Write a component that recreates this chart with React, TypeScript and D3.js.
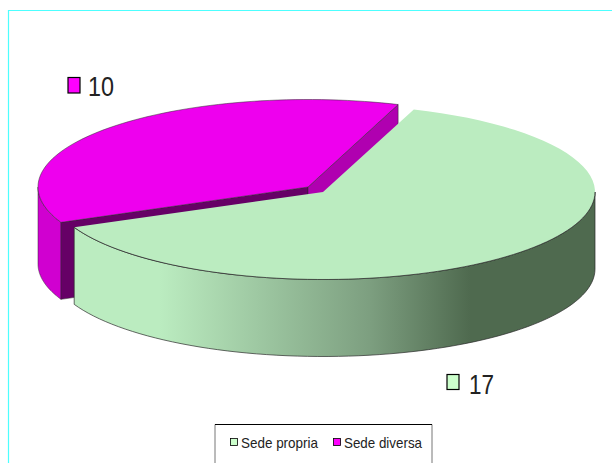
import React from "react";
import * as d3 from "d3";

const categories = ["Sede propria", "Sede diversa"];
const values = [17, 10];
const labels = ["17", "10"];
const topColors = ["#bbecc0", "#ee00ee"];
const swatchColors = ["#ccffcc", "#ff00ff"];
const gradientStops = [
  { o: 0, c: "#bbecc0" },
  { o: 0.2, c: "#bbecc0" },
  { o: 0.585, c: "#7d9f80" },
  { o: 0.77, c: "#4f6a4f" },
  { o: 1, c: "#4f6a4f" },
];

const W = 612, H = 463;
const RXS = [272, 270];
const RY = 87.5, DEPTH = 77;
const START = (19.5 * Math.PI) / 180;
const centers = [{ x: 323, y: 192, i: 0 }, { x: 308, y: 187, i: 1 }];
type C = { x: number; y: number; i: number };

const pie = d3.pie<number>().sort(null).startAngle(START).endAngle(START + 2 * Math.PI);
const arcs = pie(values);

const pt = (c: C, a: number, dy = 0): [number, number] => [
  c.x + RXS[c.i] * Math.sin(a),
  c.y - RY * Math.cos(a) + dy,
];
const samples = (a0: number, a1: number) => d3.range(0, 73).map((i) => a0 + ((a1 - a0) * i) / 72);
const line = d3.line();
const rim = (c: C, a0: number, a1: number, dy = 0) => samples(a0, a1).map((a) => pt(c, a, dy));
const topFace = (c: C, a0: number, a1: number) => line([[c.x, c.y], ...rim(c, a0, a1)]) + "Z";
const wall = (c: C, a0: number, a1: number) =>
  line([...rim(c, a0, a1), ...rim(c, a1, a0, DEPTH)]) + "Z";
const cut = (c: C, a: number) =>
  line([[c.x, c.y], pt(c, a), pt(c, a, DEPTH), [c.x, c.y + DEPTH]]) + "Z";

export default function App() {
  const g = arcs[0], m = arcs[1];
  const gc = centers[0], mc = centers[1];
  const stroke = "#2a2a2a";
  return (
    <svg width={W} height={H} style={{ position: "absolute", left: 0, top: 0, background: "#fff" }}>
      <defs>
        <linearGradient id="gw" gradientUnits="userSpaceOnUse" x1={gc.x - RXS[0]} x2={gc.x + RXS[0]} y1={0} y2={0}>
          {gradientStops.map((s) => (
            <stop key={s.o} offset={s.o} stopColor={s.c} />
          ))}
        </linearGradient>
      </defs>
      <path d={`M8.5 463V10.5H612`} fill="none" stroke="#4dffff" strokeWidth={1.2} />

      {/* Sede diversa */}
      <path d={wall(mc, m.startAngle, Math.PI * 1.5)} fill="#d000d0" stroke={stroke} strokeWidth={0.5} />
      <path d={cut(mc, m.startAngle)} fill="#660066" stroke={stroke} strokeWidth={0.5} />
      <path d={cut(mc, m.endAngle)} fill="#b000b0" stroke={stroke} strokeWidth={0.5} />
      <path d={topFace(mc, m.startAngle, m.endAngle)} fill={topColors[1]} stroke={stroke} strokeWidth={0.5} />

      {/* Sede propria */}
      <path d={wall(gc, Math.PI / 2, g.endAngle)} fill="url(#gw)" stroke={stroke} strokeWidth={0.7} />
      <path d={topFace(gc, g.startAngle, g.endAngle)} fill={topColors[0]} stroke="none" />
      <path d={line(rim(gc, Math.PI / 2, g.endAngle)) as string} fill="none" stroke={stroke} strokeWidth={0.7} />

      {/* Data labels */}
      <rect x={68} y={77.5} width={12} height={15.5} fill={swatchColors[1]} stroke="#000" strokeWidth={1.2} />
      <text x={88} y={96} fontFamily="Liberation Sans" fontSize={28} textLength={26} lengthAdjust="spacingAndGlyphs" fill="#222">{labels[1]}</text>
      <rect x={447} y={374.5} width={12} height={15} fill={swatchColors[0]} stroke="#000" strokeWidth={1.2} />
      <text x={469} y={394} fontFamily="Liberation Sans" fontSize={28} textLength={25} lengthAdjust="spacingAndGlyphs" fill="#222">{labels[0]}</text>

      {/* Legend */}
      <path d="M215 463V424.5H432V463" fill="#fff" stroke="#777" strokeWidth={1} />
      <path d="M215 424.5H432" fill="none" stroke="#000" strokeWidth={1} />
      {categories.map((c, i) => (
        <g key={c}>
          <rect x={i === 0 ? 230.5 : 333.5} y={438.5} width={7} height={7} fill={swatchColors[i]} stroke="#000" strokeWidth={0.8} />
          <text x={i === 0 ? 241 : 344} y={448} fontFamily="Liberation Sans" fontSize={15} textLength={i === 0 ? 77 : 78} lengthAdjust="spacingAndGlyphs" fill="#222">{c}</text>
        </g>
      ))}
    </svg>
  );
}
